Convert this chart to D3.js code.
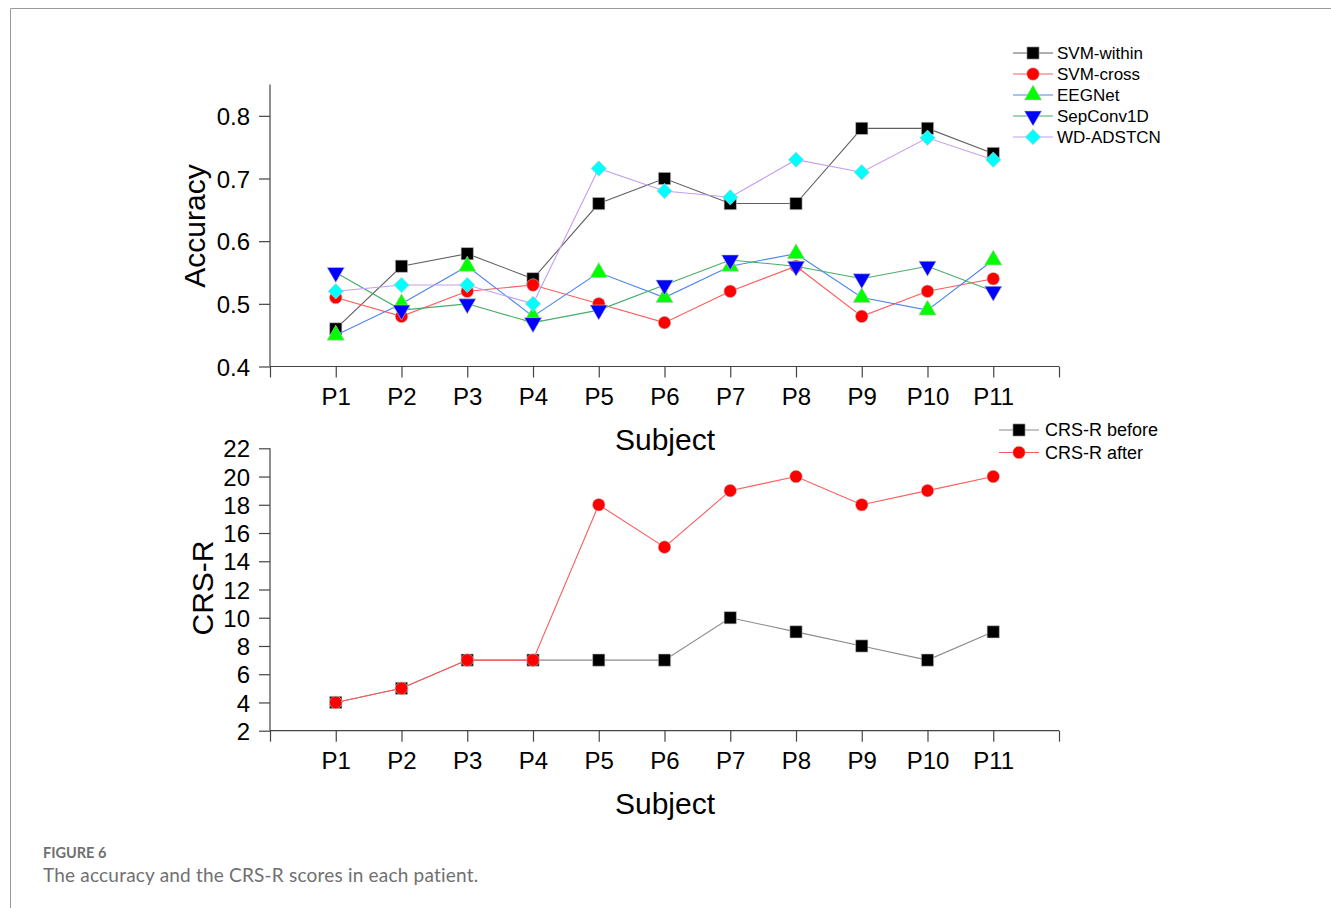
<!DOCTYPE html>
<html>
<head>
<meta charset="utf-8">
<script src="https://cdn.jsdelivr.net/npm/d3@7"></script>
<style>
  body { margin: 0; background: #fff; }
  svg text { font-family: Arial, "Liberation Sans", sans-serif; }
  svg text.caption { font-family: Lato, "Open Sans", sans-serif; }
</style>
</head>
<body>
<div id="chart"></div>
<script>
//data
var subjects = ['P1', 'P2', 'P3', 'P4', 'P5', 'P6', 'P7', 'P8', 'P9', 'P10', 'P11'];

var svmWithin = [0.46, 0.56, 0.58, 0.54, 0.66, 0.70, 0.66, 0.66, 0.78, 0.78, 0.74];
var svmCross  = [0.51, 0.48, 0.52, 0.53, 0.50, 0.47, 0.52, 0.56, 0.48, 0.52, 0.54];
var eegNet    = [0.45, 0.50, 0.56, 0.48, 0.55, 0.51, 0.56, 0.58, 0.51, 0.49, 0.57];
var sepConv1D = [0.55, 0.49, 0.50, 0.47, 0.49, 0.53, 0.57, 0.56, 0.54, 0.56, 0.52];
var wdAdstcn  = [0.52, 0.53, 0.53, 0.50, 0.716, 0.68, 0.67, 0.73, 0.71, 0.765, 0.73];

var crsBefore = [4, 5, 7, 7, 7, 7, 10, 9, 8, 7, 9];
var crsAfter  = [4, 5, 7, 7, 18, 15, 19, 20, 18, 19, 20];

var accTicks = [0.4, 0.5, 0.6, 0.7, 0.8];
var crsTicks = [2, 4, 6, 8, 10, 12, 14, 16, 18, 20, 22];

//dims
var width = 1331;
var height = 908;

var svg = d3.select('#chart')
    .append('svg')
    .attr('width', width)
    .attr('height', height);

//frame
svg.append('path')
  .attr('d', 'M10.5,908 V8.5 H1331')
  .attr('fill', 'none')
  .attr('stroke', '#9a9a9a');

//scales
var x = d3.scaleLinear().domain([0, 12]).range([270, 1059]);
var yAcc = d3.scaleLinear().domain([0.4, 0.85]).range([366.5, 84.5]);
var yCrs = d3.scaleLinear().domain([2, 22]).range([730.7, 448.3]);

var axisColor = '#444';

function drawAxes(y, majors, minors, fmt) {
  var y0 = y.range()[0];
  var gx = svg.append('g').attr('transform', 'translate(0,' + y0 + ')');
  gx.call(d3.axisBottom(x).tickValues(d3.range(0.5, 12, 1)).tickSize(5).tickFormat(''));
  gx.call(d3.axisBottom(x).tickValues(d3.range(0, 13, 1)).tickSize(11)
    .tickFormat(function(d) { return subjects[d - 1] || ''; }));
  gx.selectAll('text').attr('font-size', 24).attr('fill', '#000').attr('dy', '1.02em');

  var gy = svg.append('g').attr('transform', 'translate(270,0)');
  gy.call(d3.axisLeft(y).tickValues(minors).tickSize(5).tickFormat(''));
  gy.call(d3.axisLeft(y).tickValues(majors).tickSize(11).tickFormat(fmt));
  gy.selectAll('text').attr('font-size', 24).attr('fill', '#000').attr('x', -20).attr('dy', '0.36em');

  svg.selectAll('.domain').attr('stroke', axisColor).attr('stroke-width', 1.2);
  svg.selectAll('.tick line').attr('stroke', axisColor).attr('stroke-width', 1.2);
  // keep the axis lines plain, without end caps
  gx.selectAll('.domain').attr('d', 'M270,0H1059');
  gy.selectAll('.domain').attr('d', 'M0,' + y.range()[1] + 'V' + y.range()[0]);
}

drawAxes(yAcc, accTicks, [0.45, 0.55, 0.65, 0.75, 0.85], d3.format('.1f'));
drawAxes(yCrs, crsTicks, d3.range(3, 22, 2), d3.format('d'));

//axis titles
svg.append('text')
  .attr('transform', 'translate(205,226) rotate(-90)')
  .attr('text-anchor', 'middle')
  .attr('font-size', 30)
  .text('Accuracy');

svg.append('text')
  .attr('transform', 'translate(213,588) rotate(-90)')
  .attr('text-anchor', 'middle')
  .attr('font-size', 30)
  .text('CRS-R');

svg.append('text')
  .attr('x', 665).attr('y', 450)
  .attr('text-anchor', 'middle')
  .attr('font-size', 30)
  .text('Subject');

svg.append('text')
  .attr('x', 665).attr('y', 814)
  .attr('text-anchor', 'middle')
  .attr('font-size', 30)
  .text('Subject');

//symbols
var shapes = {
  square:   { type: d3.symbolSquare, size: 150, rot: 0 },
  circle:   { type: d3.symbolCircle, size: 125, rot: 0 },
  triangle: { type: d3.symbolTriangle, size: 130, rot: 0 },
  down:     { type: d3.symbolTriangle, size: 130, rot: 180 },
  diamond:  { type: d3.symbolSquare, size: 118, rot: 45 }
};

var accSeries = [
  { label: 'SVM-within', values: svmWithin, line: '#606060', fill: '#000000', shape: 'square' },
  { label: 'SVM-cross',  values: svmCross,  line: '#ff5a5a', fill: '#ff0000', shape: 'circle' },
  { label: 'EEGNet',     values: eegNet,    line: '#4a86ee', fill: '#00ff00', shape: 'triangle' },
  { label: 'SepConv1D',  values: sepConv1D, line: '#46ad68', fill: '#0000ff', shape: 'down' },
  { label: 'WD-ADSTCN',  values: wdAdstcn,  line: '#c49ef0', fill: '#00ffff', shape: 'diamond' }
];

var crsSeries = [
  { label: 'CRS-R before', values: crsBefore, line: '#8a8a8a', fill: '#000000', shape: 'square' },
  { label: 'CRS-R after',  values: crsAfter,  line: '#ff5a5a', fill: '#ff0000', shape: 'circle' }
];

function marker(g, s, cx, cy) {
  var sh = shapes[s.shape];
  g.append('path')
    .attr('d', d3.symbol().type(sh.type).size(sh.size)())
    .attr('transform', 'translate(' + cx + ',' + cy + ') rotate(' + sh.rot + ')')
    .attr('fill', s.fill)
    .attr('stroke', '#c8c8c8')
    .attr('stroke-width', 0.6);
}

function drawSeries(list, y) {
  var line = d3.line()
    .x(function(d, i) { return x(i + 1); })
    .y(function(d) { return y(d); });

  list.forEach(function(s) {
    var g = svg.append('g');
    g.append('path')
      .attr('d', line(s.values))
      .attr('fill', 'none')
      .attr('stroke', s.line)
      .attr('stroke-width', 1.1);
    s.values.forEach(function(v, i) {
      marker(g, s, x(i + 1), y(v));
    });
  });
}

drawSeries(accSeries, yAcc);
drawSeries(crsSeries, yCrs);

//legends
function drawLegend(list, x0, y0, step, fontSize, textX) {
  list.forEach(function(s, i) {
    var g = svg.append('g');
    var cy = y0 + i * step;
    g.append('line')
      .attr('x1', x0).attr('x2', x0 + 40)
      .attr('y1', cy).attr('y2', cy)
      .attr('stroke', s.line)
      .attr('stroke-width', 1.1);
    marker(g, s, x0 + 20, cy);
    g.append('text')
      .attr('x', textX).attr('y', cy)
      .attr('dy', '0.36em')
      .attr('font-size', fontSize)
      .text(s.label);
  });
}

drawLegend(accSeries, 1013, 53, 21, 17, 1057);
drawLegend(crsSeries, 999, 430, 22.5, 18, 1045);

//caption
svg.append('text')
  .attr('class', 'caption')
  .attr('x', 43).attr('y', 858)
  .attr('font-size', 14.5)
  .attr('font-weight', 'bold')
  .attr('fill', '#707070')
  .text('FIGURE 6');

svg.append('text')
  .attr('class', 'caption')
  .attr('x', 43).attr('y', 882)
  .attr('font-size', 19)
  .attr('letter-spacing', 0.2)
  .attr('fill', '#707070')
  .text('The accuracy and the CRS-R scores in each patient.');
</script>
</body>
</html>
